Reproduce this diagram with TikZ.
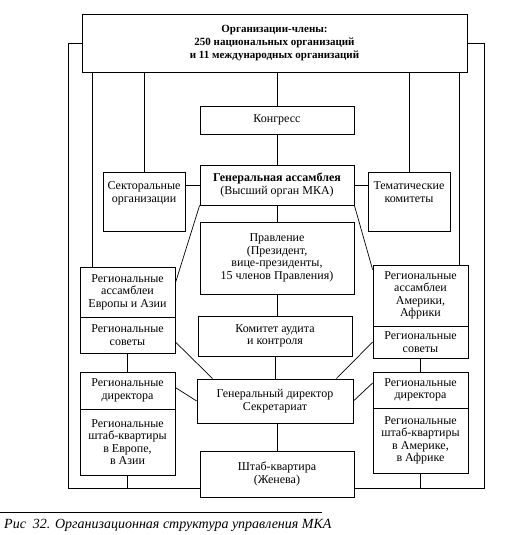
\documentclass[tikz,border=0pt]{standalone}
\usepackage{fontspec}
\setmainfont{Liberation Serif}

\begin{document}
\begin{tikzpicture}[x=1pt,y=-1pt]
    \tikzstyle{box}=[draw, line width=0.8pt, align=center, inner sep=2pt, font=\fontsize{12}{12.5}\selectfont]
    \tikzstyle{side}=[box, minimum width=95pt]
    \tikzstyle{mid}=[box, minimum width=154pt]
    \tikzstyle{link}=[line width=0.7pt]
    \useasboundingbox (0,0) rectangle (514,535);
    % top
    \node[box, minimum width=385pt, minimum height=58pt, font=\fontsize{11}{13}\selectfont\bfseries] (members) at (274.5,43)
        {Организации-члены:\\250 национальных организаций\\и 11 международных организаций};
    % centre column
    \node[mid, minimum height=28pt] (congress) at (277,120) {Конгресс};
    \node[mid, minimum height=40pt] (assembly) at (277,185) {\textbf{Генеральная ассамблея}\\(Высший орган МКА)};
    \node[mid, minimum height=72pt] (board) at (277,258) {Правление\\(Президент,\\вице-президенты,\\15 членов Правления)};
    \node[mid, minimum height=40pt] (audit) at (275,336) {Комитет аудита\\и контроля};
    \node[mid, minimum width=156pt, minimum height=44pt] (director) at (275,401) {Генеральный директор\\Секретариат};
    \node[mid, minimum height=46pt] (geneva) at (277,474) {Штаб-квартира\\(Женева)};
    % sectoral and thematic
    \node[box, minimum width=82pt, minimum height=59pt] (sector) at (144,201.5) {};
    \node[box, draw=none, anchor=north] at ([yshift=-8pt]sector.north) {Секторальные\\организации};
    \node[box, minimum width=82pt, minimum height=59pt] (theme) at (409,201.5) {};
    \node[box, draw=none, anchor=north] at ([yshift=-8pt]theme.north) {Тематические\\комитеты};
    % left column
    \node[side, minimum height=50pt] (lassembly) at (127.5,292) {Региональные\\ассамблеи\\Европы и Азии};
    \node[side, minimum height=36pt] (lcouncil) at (127.5,335) {Региональные\\советы};
    \node[side, minimum height=37pt] (ldirector) at (127.5,390.5) {Региональные\\директора};
    \node[side, minimum height=66pt] (lhq) at (127.5,442) {Региональные\\штаб-квартиры\\в Европе,\\в Азии};
    % right column
    \node[side, minimum height=61pt] (rassembly) at (420.5,295.5) {Региональные\\ассамблеи\\Америки,\\Африки};
    \node[side, minimum height=32pt] (rcouncil) at (420.5,342) {Региональные\\советы};
    \node[side, minimum height=36pt] (rdirector) at (420.5,390) {Региональные\\директора};
    \node[side, minimum height=65pt] (rhq) at (420.5,440.5) {Региональные\\штаб-квартиры\\в Америке,\\в Африке};
    \coordinate (lcorner) at (68,488);
    \coordinate (rcorner) at (484,488);
    % links from the top box
    \draw[link] (congress.north) -- (congress.north |- members.south);
    \draw[link] (sector.north) -- (sector.north |- members.south);
    \draw[link] (theme.north) -- (theme.north |- members.south);
    \draw[link] ([xshift=13pt]lassembly.north west) -- ([xshift=13pt]lassembly.north west |- members.south);
    \draw[link] ([xshift=-9pt]rassembly.north east) -- ([xshift=-9pt]rassembly.north east |- members.south);
    \draw[link] (members.west) -| (lcorner) -- (lcorner -| geneva.west);
    \draw[link] (members.east) -| (rcorner) -- (rcorner -| geneva.east);
    \draw[link] (lhq.south) -- (lhq.south |- lcorner);
    \draw[link] (rhq.south) -- (rhq.south |- rcorner);
    % centre links
    \draw[link] (congress) -- (assembly);
    \draw[link] (assembly) -- (board);
    \draw[link] (board.south) -- (board.south |- audit.north);
    \draw[link] (audit.south -| director) -- (director.north);
    \draw[link] (director.south -| geneva) -- (geneva.north);
    \draw[link] (assembly.west) -- (assembly.west -| sector.east);
    \draw[link] (assembly.east) -- (assembly.east -| theme.west);
    % regional links
    \draw[link] (lcouncil) -- (ldirector);
    \draw[link] (rcouncil) -- (rdirector);
    \draw[link] ([yshift=9pt]lassembly.east) -- (assembly.south west);
    \draw[link] ([yshift=-5pt]rassembly.north west) -- (assembly.south east);
    \draw[link] ([yshift=-7pt]lcouncil.east) -- ([xshift=16pt]director.north west);
    \draw[link] (rcouncil.west) -- ([xshift=-17pt]director.north east);
    \draw[link] ([yshift=3pt]ldirector.east) -- (director.west);
    \draw[link] ([yshift=7pt]rdirector.west) -- (director.east);
    % caption
    \draw[line width=1pt] (0,512) -- (322,512);
    \node[anchor=base west, inner sep=0pt, font=\fontsize{14}{16}\selectfont\itshape] (caption) at (4,528)
        {Рис\enspace 32. Организационная структура управления МКА};
\end{tikzpicture}
\end{document}
